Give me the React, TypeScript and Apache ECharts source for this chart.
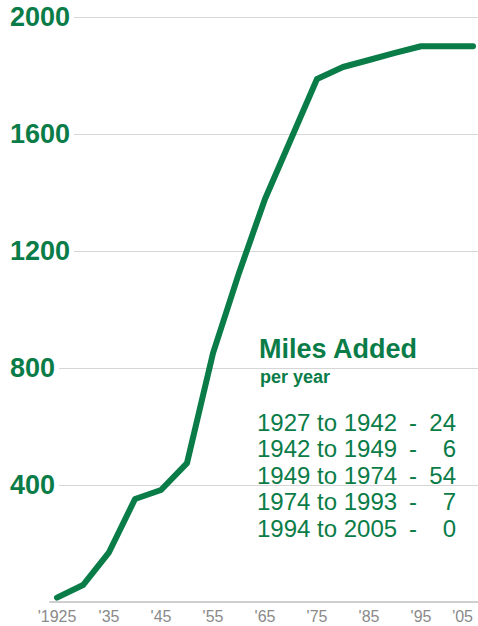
import React, { useEffect, useRef } from "react";
import * as echarts from "echarts";

const years = [1925, 1930, 1935, 1940, 1945, 1950, 1955, 1960, 1965, 1970, 1975, 1980, 1985, 1990, 1995, 2000, 2005];
const miles = [15, 58, 170, 352, 383, 475, 851, 1125, 1378, 1583, 1788, 1829, 1853, 1877, 1900, 1900, 1900];
const xTickYears = [1925, 1935, 1945, 1955, 1965, 1975, 1985, 1995, 2005];
const periods = ["1927 to 1942", "1942 to 1949", "1949 to 1974", "1974 to 1993", "1994 to 2005"];
const rates = [24, 6, 54, 7, 0];

const GREEN = "#0a7c48";
const FONT = "'Liberation Sans', Arial, sans-serif";

export default function App() {
  const ref = useRef<HTMLDivElement>(null);
  useEffect(() => {
    document.body.style.margin = "0";
    const chart = echarts.init(ref.current!, null, { renderer: "svg" });
    const rowTop = 422;
    const rowGap = 26.5;
    const graphics: any[] = [
      {
        type: "text",
        x: 259,
        y: 349,
        style: { text: "Miles Added", font: `bold 27px ${FONT}`, fill: GREEN, verticalAlign: "middle", align: "left" },
      },
      {
        type: "text",
        x: 260,
        y: 377,
        style: { text: "per year", font: `bold 18px ${FONT}`, fill: GREEN, verticalAlign: "middle", align: "left" },
      },
    ];
    periods.forEach((p, i) => {
      const y = rowTop + i * rowGap;
      graphics.push(
        { type: "text", x: 257, y, style: { text: p, font: `24px ${FONT}`, fill: GREEN, verticalAlign: "middle", align: "left" } },
        { type: "text", x: 413, y, style: { text: "-", font: `24px ${FONT}`, fill: GREEN, verticalAlign: "middle", align: "center" } },
        { type: "text", x: 456, y, style: { text: String(rates[i]), font: `24px ${FONT}`, fill: GREEN, verticalAlign: "middle", align: "right" } }
      );
    });
    chart.setOption({
      animation: false,
      grid: { left: 50, right: 0, top: 17, bottom: 24, containLabel: false, outerBoundsMode: "none" },
      xAxis: {
        type: "value",
        min: 1923.65,
        max: 2005.96,
        axisLine: { show: true, lineStyle: { color: "#cfcfcf", width: 2 } },
        axisTick: { show: false },
        splitLine: { show: false },
        axisLabel: {
          customValues: xTickYears,
          color: "#8a8a8a",
          fontSize: 16,
          fontFamily: FONT,
          margin: 6,
          alignMaxLabel: "right",
          formatter: (v: number) => (v === 1925 ? "'1925" : "'" + String(v).slice(2)),
        },
      },
      yAxis: {
        type: "value",
        min: 0,
        max: 2000,
        interval: 400,
        axisLine: { show: false },
        axisTick: { show: false },
        splitLine: { show: true, lineStyle: { color: "#d6d6d6", width: 1 } },
        axisLabel: {
          color: GREEN,
          fontSize: 27,
          fontWeight: "bold",
          fontFamily: FONT,
          align: "left",
          margin: 40,
          backgroundColor: "#ffffff",
          padding: [0, 4, 0, 0],
          formatter: (v: number) => (v === 0 ? "" : String(v)),
        },
      },
      series: [
        {
          type: "line",
          data: years.map((y, i) => [y, miles[i]]),
          showSymbol: false,
          symbol: "none",
          lineStyle: { color: GREEN, width: 6, cap: "round", join: "round" },
        },
      ],
      graphic: graphics,
    });
    return () => chart.dispose();
  }, []);
  return <div ref={ref} style={{ position: "absolute", left: 0, top: 0, width: 478, height: 626, background: "#fff" }} />;
}
